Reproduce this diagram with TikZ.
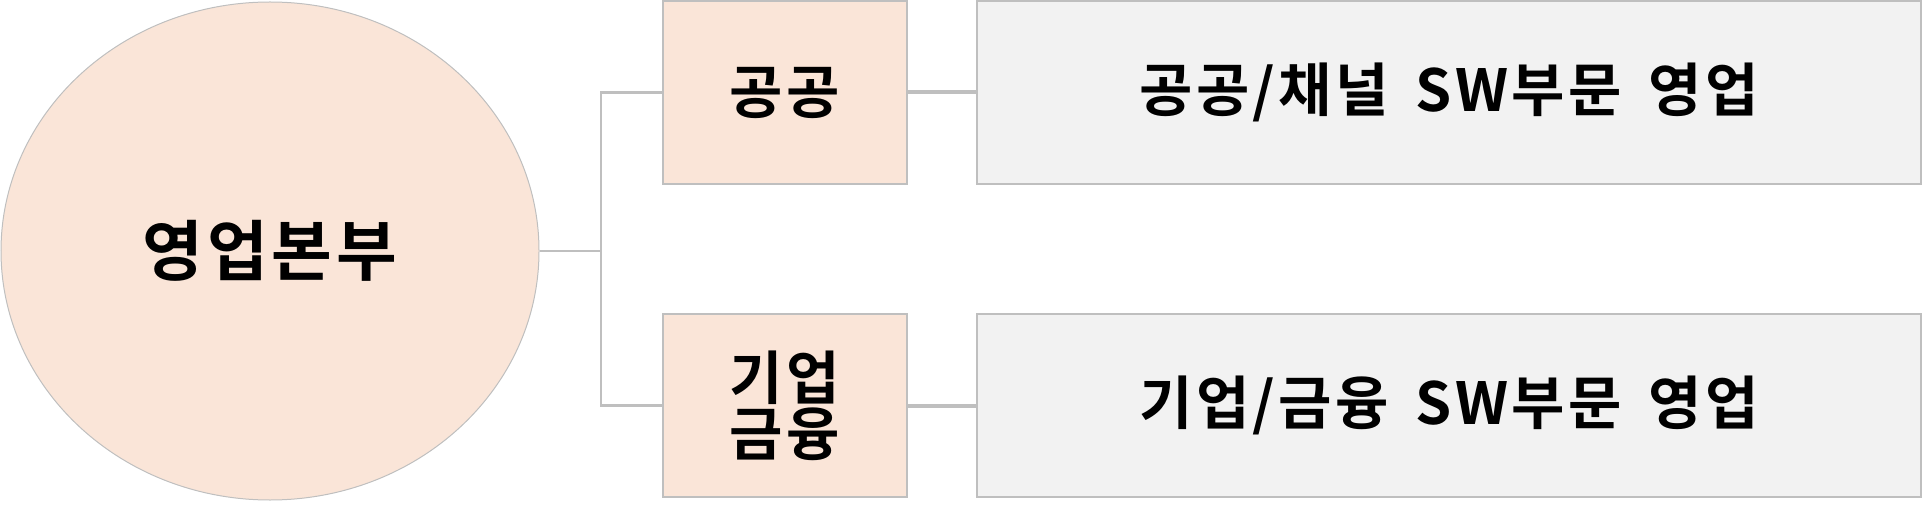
\documentclass[tikz,border=0pt]{standalone}
\usepackage{fontspec}
\usetikzlibrary{shapes.geometric}
\setmainfont{Noto Sans CJK KR}[BoldFont={* Bold},LetterSpace=6,WordSpace=1.6]
\definecolor{peach}{HTML}{FAE5D8}
\definecolor{lgray}{HTML}{F2F2F2}
\definecolor{edge}{HTML}{BFBFBF}
\begin{document}
\begin{tikzpicture}[x=1pt,y=-1pt,
  lbl/.style={font=\bfseries\fontsize{58}{68}\selectfont, align=center},
  pbox/.style={draw=edge,line width=2.5pt,fill=peach,minimum width=244pt,minimum height=183pt,inner sep=0pt},
  gbox/.style={draw=edge,line width=2.5pt,fill=lgray,minimum width=944pt,minimum height=183pt,inner sep=0pt},
  conn/.style={draw=edge,line width=2.5pt}]
\useasboundingbox (0,0) rectangle (1924,521);
\node[ellipse,draw=edge,line width=1pt,fill=peach,minimum width=538pt,minimum height=498pt,inner sep=0pt] (e) at (270,251) {};
\node[lbl,font=\bfseries\fontsize{66}{76}\selectfont] at (270,251) {영업본부};
\node[pbox] (p1) at (785,92.5) {};
\node[lbl] at (p1) {공공};
\node[pbox] (p2) at (785,405.5) {};
\node[lbl] at (p2) {기업\\[-12pt]금융};
\node[gbox] (g1) at (1449,92.5) {};
\node[lbl] at (g1) {공공/채널 SW부문 영업};
\node[gbox] (g2) at (1449,405.5) {};
\node[lbl] at (g2) {기업/금융 SW부문 영업};
\coordinate (j) at (601,251);
\draw[conn] (e.east) -- (j);
\draw[conn] (p1.west) -| (j) |- (p2.west);
\draw[conn,line width=4pt] (p1.east) -- (g1.west);
\draw[conn,line width=4pt] (p2.east) -- (g2.west);
\end{tikzpicture}
\end{document}
